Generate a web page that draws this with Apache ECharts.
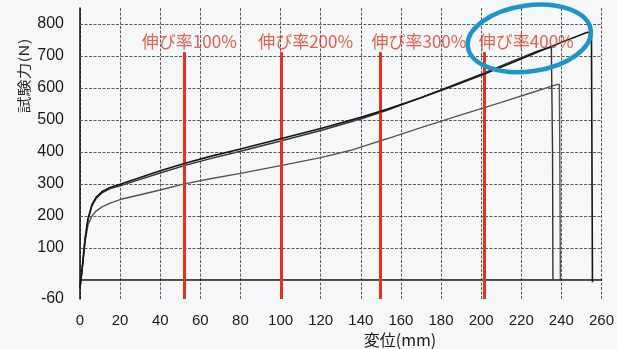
<!DOCTYPE html>
<html>
<head>
<meta charset="utf-8">
<script src="https://cdn.jsdelivr.net/npm/echarts@6/dist/echarts.min.js"></script>
<style>
  html, body { margin: 0; padding: 0; background: #f6f7f8; }
  #chart { width: 617px; height: 349px; }
</style>
</head>
<body>
<div id="chart"></div>
<script>
// Tensile test: force vs displacement for three specimens
const xMin = 0, xMax = 260, xStep = 20;
const yMin = -60, yMax = 850;
const yLabelValues = [-60, 100, 200, 300, 400, 500, 600, 700, 800];
const yGridValues = [0, 100, 200, 300, 400, 500, 600, 700, 800];

// specimen A (longest elongation) — [displacement mm, force N]
const curveA = [
  [0, -25], [0.8, 20], [1.5, 62], [2.5, 128], [4, 192], [6, 236], [8, 258], [11, 276],
  [15, 289], [20, 299], [30, 320], [40, 341], [52, 364], [65, 386], [80, 409],
  [100, 441], [120, 473], [140, 508], [153, 533], [170, 569], [185, 604], [200, 640],
  [215, 678], [230, 717], [245, 755], [253, 774], [255, 772], [255.3, 300], [255.5, -8]
];
// specimen B
const curveB = [
  [0, -25], [0.8, 18], [1.5, 58], [2.5, 122], [4, 188], [6, 232], [8, 254], [11, 272],
  [15, 285], [20, 294], [30, 314], [40, 334], [52, 357], [65, 379], [80, 402],
  [100, 434], [120, 467], [140, 503], [153, 530], [170, 570], [185, 606], [200, 643],
  [215, 682], [228, 715], [235, 728], [235.6, 400], [235.8, 2]
];
// specimen C (lower force)
const curveC = [
  [0, -25], [0.8, 18], [1.5, 56], [2.5, 118], [4, 172], [6, 200], [8, 215], [11, 228],
  [15, 240], [20, 251], [30, 266], [40, 281], [52, 300], [65, 316], [80, 333],
  [100, 357], [120, 382], [135, 405], [145, 425], [153, 441], [170, 476], [190, 516],
  [210, 555], [225, 585], [238, 611], [239, 611], [239.3, 300], [239.5, 2]
];

// elongation markers (gauge length 50 mm)
const markerNames = ['伸び率100%', '伸び率200%', '伸び率300%', '伸び率400%'];
const markerX = [52, 100.5, 149.5, 201.5];
const markerTop = 712;
const markerLabelX = [54.5, 112.5, 169, 222.5];
const markerLabelY = 746;

// highlighted region around the 400% label
const highlightCenter = [224, 755];

const chart = echarts.init(document.getElementById('chart'));

const gridLineStyle = { color: '#5a5a5a', width: 1, type: [3, 1.5] };

chart.setOption({
  animation: false,
  backgroundColor: '#f6f7f8',
  grid: { left: 80, right: 12, top: 8, bottom: 50, containLabel: false },
  xAxis: {
    type: 'value', min: xMin, max: xMax, interval: xStep,
    axisLine: { lineStyle: { color: '#111', width: 1.5 } },
    axisTick: { show: false },
    axisLabel: { color: '#1a1a1a', fontSize: 15, margin: 14, fontFamily: 'Liberation Sans, Arial, sans-serif' },
    splitLine: { show: true, lineStyle: gridLineStyle }
  },
  yAxis: {
    type: 'value', min: yMin, max: yMax,
    axisLine: { show: true, lineStyle: { color: '#111', width: 1.5 } },
    axisTick: { show: false },
    axisLabel: {
      customValues: yLabelValues,
      color: '#1a1a1a', fontSize: 16, margin: 16,
      fontFamily: 'Liberation Sans, Arial, sans-serif'
    },
    splitLine: { show: false }
  },
  series: [
    {
      name: 'grid', type: 'line', data: [], z: 1, silent: true,
      markLine: {
        silent: true, symbol: 'none', label: { show: false },
        lineStyle: gridLineStyle,
        data: yGridValues.map(v => ({ yAxis: v }))
      }
    },
    {
      name: 'markers', type: 'line', data: [], z: 3, silent: true,
      markLine: {
        silent: true, symbol: 'none', label: { show: false },
        lineStyle: { color: '#e5321c', width: 3, type: 'solid' },
        data: markerX.map(x => [{ coord: [x, yMin] }, { coord: [x, markerTop] }])
      }
    },
    {
      name: 'C', type: 'line', data: curveC, showSymbol: false, z: 4,
      lineStyle: { color: '#555', width: 1.4 }
    },
    {
      name: 'B', type: 'line', data: curveB, showSymbol: false, z: 4,
      lineStyle: { color: '#333', width: 1.4 }
    },
    {
      name: 'A', type: 'line', data: curveA, showSymbol: false, z: 5,
      lineStyle: { color: '#151515', width: 1.6 }
    },
    {
      name: 'markerLabels', type: 'scatter', symbolSize: 0, z: 6, silent: true,
      data: markerNames.map((n, i) => [markerLabelX[i], markerLabelY, n]),
      label: {
        show: true, position: 'inside',
        formatter: p => p.value[2],
        color: '#e23a22', fontSize: 17,
        fontFamily: 'Noto Sans CJK JP, sans-serif'
      }
    }
  ],
  graphic: [
    {
      type: 'text', x: 24, y: 76, rotation: Math.PI / 2, scaleY: 0.8,
      style: {
        text: '試験力(N)', fill: '#2a2a2a', fontSize: 17,
        fontFamily: 'Noto Sans CJK JP, sans-serif',
        align: 'center', verticalAlign: 'middle'
      }
    },
    {
      type: 'text', x: 400, y: 340,
      style: {
        text: '変位(mm)', fill: '#1a1a1a', fontSize: 16,
        fontFamily: 'Noto Sans CJK JP, sans-serif',
        align: 'center', verticalAlign: 'middle'
      }
    }
  ]
});

// ellipse annotation placed from data coordinates
const c = chart.convertToPixel({ gridIndex: 0 }, highlightCenter);
chart.setOption({
  graphic: [
    {
      type: 'ellipse', id: 'highlight', x: c[0], y: c[1], rotation: 0.14, z: 100,
      shape: { cx: 0, cy: 0, rx: 62, ry: 33 },
      style: { fill: 'none', stroke: '#1d95c9', lineWidth: 4.5 }
    }
  ]
});
</script>
</body>
</html>
